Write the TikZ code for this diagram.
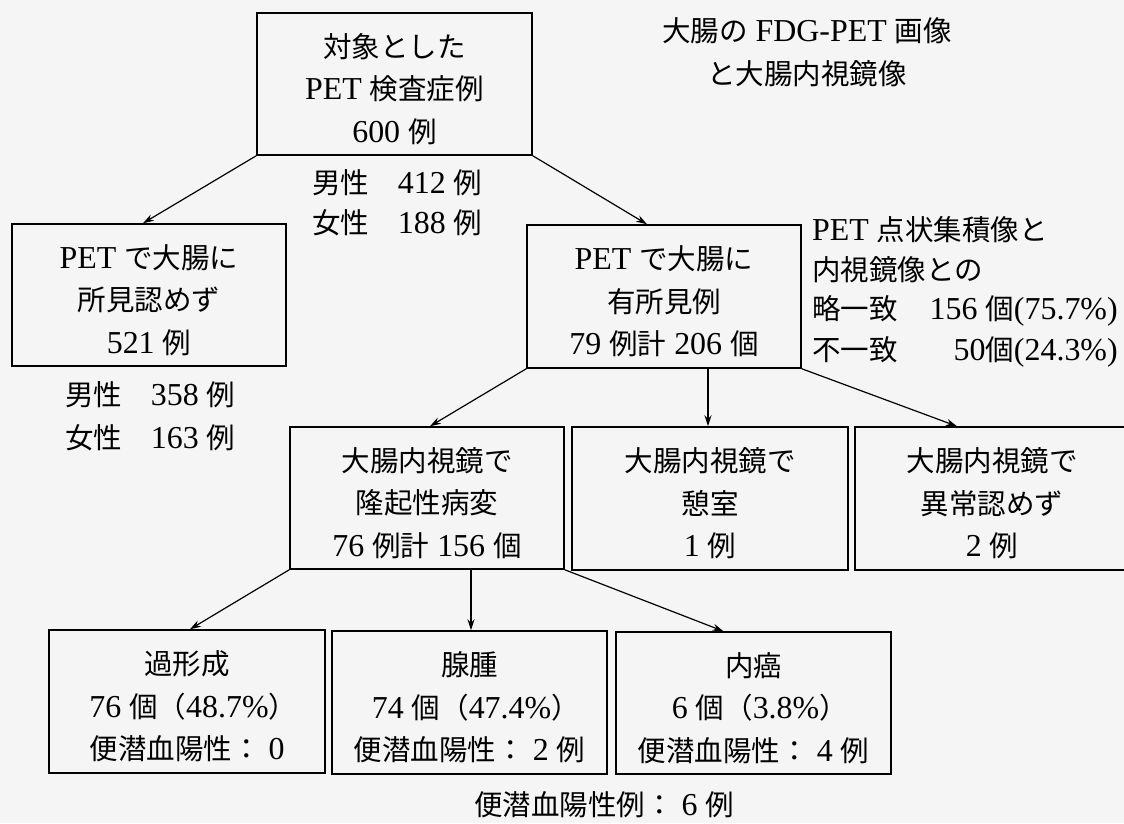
\documentclass[tikz,border=0pt]{standalone}
\usepackage{fontspec}
\setmainfont{Liberation Serif}[Scale=1.12]
\newfontfamily\cjk{Noto Sans CJK JP}
\newcommand\J[1]{{\cjk #1}}
\newcommand\rp{\makebox[0.5em][l]{\J{）}}}
\usetikzlibrary{arrows.meta}
\begin{document}
\begin{tikzpicture}[x=1pt,y=-1pt,
  box/.style={draw=black, line width=1.5pt, minimum height=142pt, inner sep=0pt},
  btxt/.style={align=center, inner sep=0pt, yshift=-5pt, font=\fontsize{28.5}{42.5}\selectfont},
  lbl/.style={inner sep=0pt, font=\fontsize{28.5}{42.5}\selectfont},
  arr/.style={line width=1.2pt, -{Stealth[length=11pt,width=7pt]}}]
\useasboundingbox (0,0) rectangle (1124,823);
\clip (0,0) rectangle (1124,823);
\fill[white!96!black] (0,0) rectangle (1124,823);

% boxes
\node[box, minimum width=275pt] (top) at (394.5,84) {};
\node[box, minimum width=274pt] (left) at (149,295) {};
\node[box, minimum width=274pt, minimum height=143pt] (right) at (664,296.5) {};
\node[box, minimum width=274pt] (r1) at (427,498) {};
\node[box, minimum width=276pt, minimum height=143pt] (r2) at (710,498.5) {};
\node[box, minimum width=274pt, minimum height=143pt] (r3) at (992,498.5) {};
\node[box, minimum width=276pt, minimum height=143pt] (b1) at (187,701.5) {};
\node[box, minimum width=275pt, minimum height=143pt] (b2) at (469.5,702.5) {};
\node[box, minimum width=275pt, minimum height=142pt] (b3) at (753.5,703) {};

% box texts
\node[btxt] (topt) at (top.center) {\J{対象とした}\\PET \J{検査症例}\\600 \J{例}};
\node[btxt] (leftt) at (left.center) {PET \J{で大腸に}\\\J{所見認めず}\\521 \J{例}};
\node[btxt] (rightt) at (right.center) {PET \J{で大腸に}\\\J{有所見例}\\79 \J{例計} 206 \J{個}};
\node[btxt] (r1t) at (r1.center) {\J{大腸内視鏡で}\\\J{隆起性病変}\\76 \J{例計} 156 \J{個}};
\node[btxt] (r2t) at (r2.center) {\J{大腸内視鏡で}\\\J{憩室}\\1 \J{例}};
\node[btxt] (r3t) at (r3.center) {\J{大腸内視鏡で}\\\J{異常認めず}\\2 \J{例}};
\node[btxt] (b1t) at (b1.center) {\J{過形成}\\76 \J{個（}48.7\%\rp\\\J{便潜血陽性：} 0};
\node[btxt] (b2t) at (b2.center) {\J{腺腫}\\74 \J{個（}47.4\%\rp\\\J{便潜血陽性：} 2 \J{例}};
\node[btxt] (b3t) at (b3.center) {\J{内癌}\\6 \J{個（}3.8\%\rp\\\J{便潜血陽性：} 4 \J{例}};

% free labels
\node[lbl, align=center] (title) at (807,52) {\J{大腸の} FDG-PET \J{画像}\\\J{と大腸内視鏡像}};
\node[lbl, anchor=west] (m1) at (312,183) {\J{男性}\hspace{0.9em}412 \J{例}};
\node[lbl, anchor=west] (f1) at (312,223) {\J{女性}\hspace{0.9em}188 \J{例}};
\node[lbl, anchor=west] (m2) at (65,395) {\J{男性}\hspace{0.9em}358 \J{例}};
\node[lbl, anchor=west] (f2) at (65,438) {\J{女性}\hspace{0.9em}163 \J{例}};
\node[lbl, anchor=west] (n1) at (812,230) {PET \J{点状集積像と}};
\node[lbl, anchor=west] (n2) at (812,270) {\J{内視鏡像との}};
\node[lbl, anchor=west] (n3) at (812,311) {\J{略一致}\hspace{1em}156 \J{個}(75.7\%)};
\node[lbl, anchor=west] (n4) at (812,352) {\J{不一致}\hspace{1.75em}50\J{個}(24.3\%)};
\node[lbl] (tot) at (604,805) {\J{便潜血陽性例：} 6 \J{例}};

% connectors
\draw[arr] (top.south west) -- ([xshift=-6pt]left.north);
\draw[arr] (top.south east) -- ([xshift=-17pt]right.north);
\draw[arr] (right.south west) -- ([xshift=3pt]r1.north);
\coordinate (v1) at ([xshift=-2pt]r2.north);
\draw[arr] (v1 |- right.south) -- (v1);
\draw[arr] (right.south east) -- ([xshift=-35pt]r3.north);
\draw[arr] (r1.south west) -- ([xshift=3pt]b1.north);
\coordinate (v2) at ([xshift=1.5pt]b2.north);
\draw[arr] (v2 |- r1.south) -- (v2);
\draw[arr] (r1.south east) -- ([xshift=-30pt]b3.north);
\end{tikzpicture}
\end{document}
